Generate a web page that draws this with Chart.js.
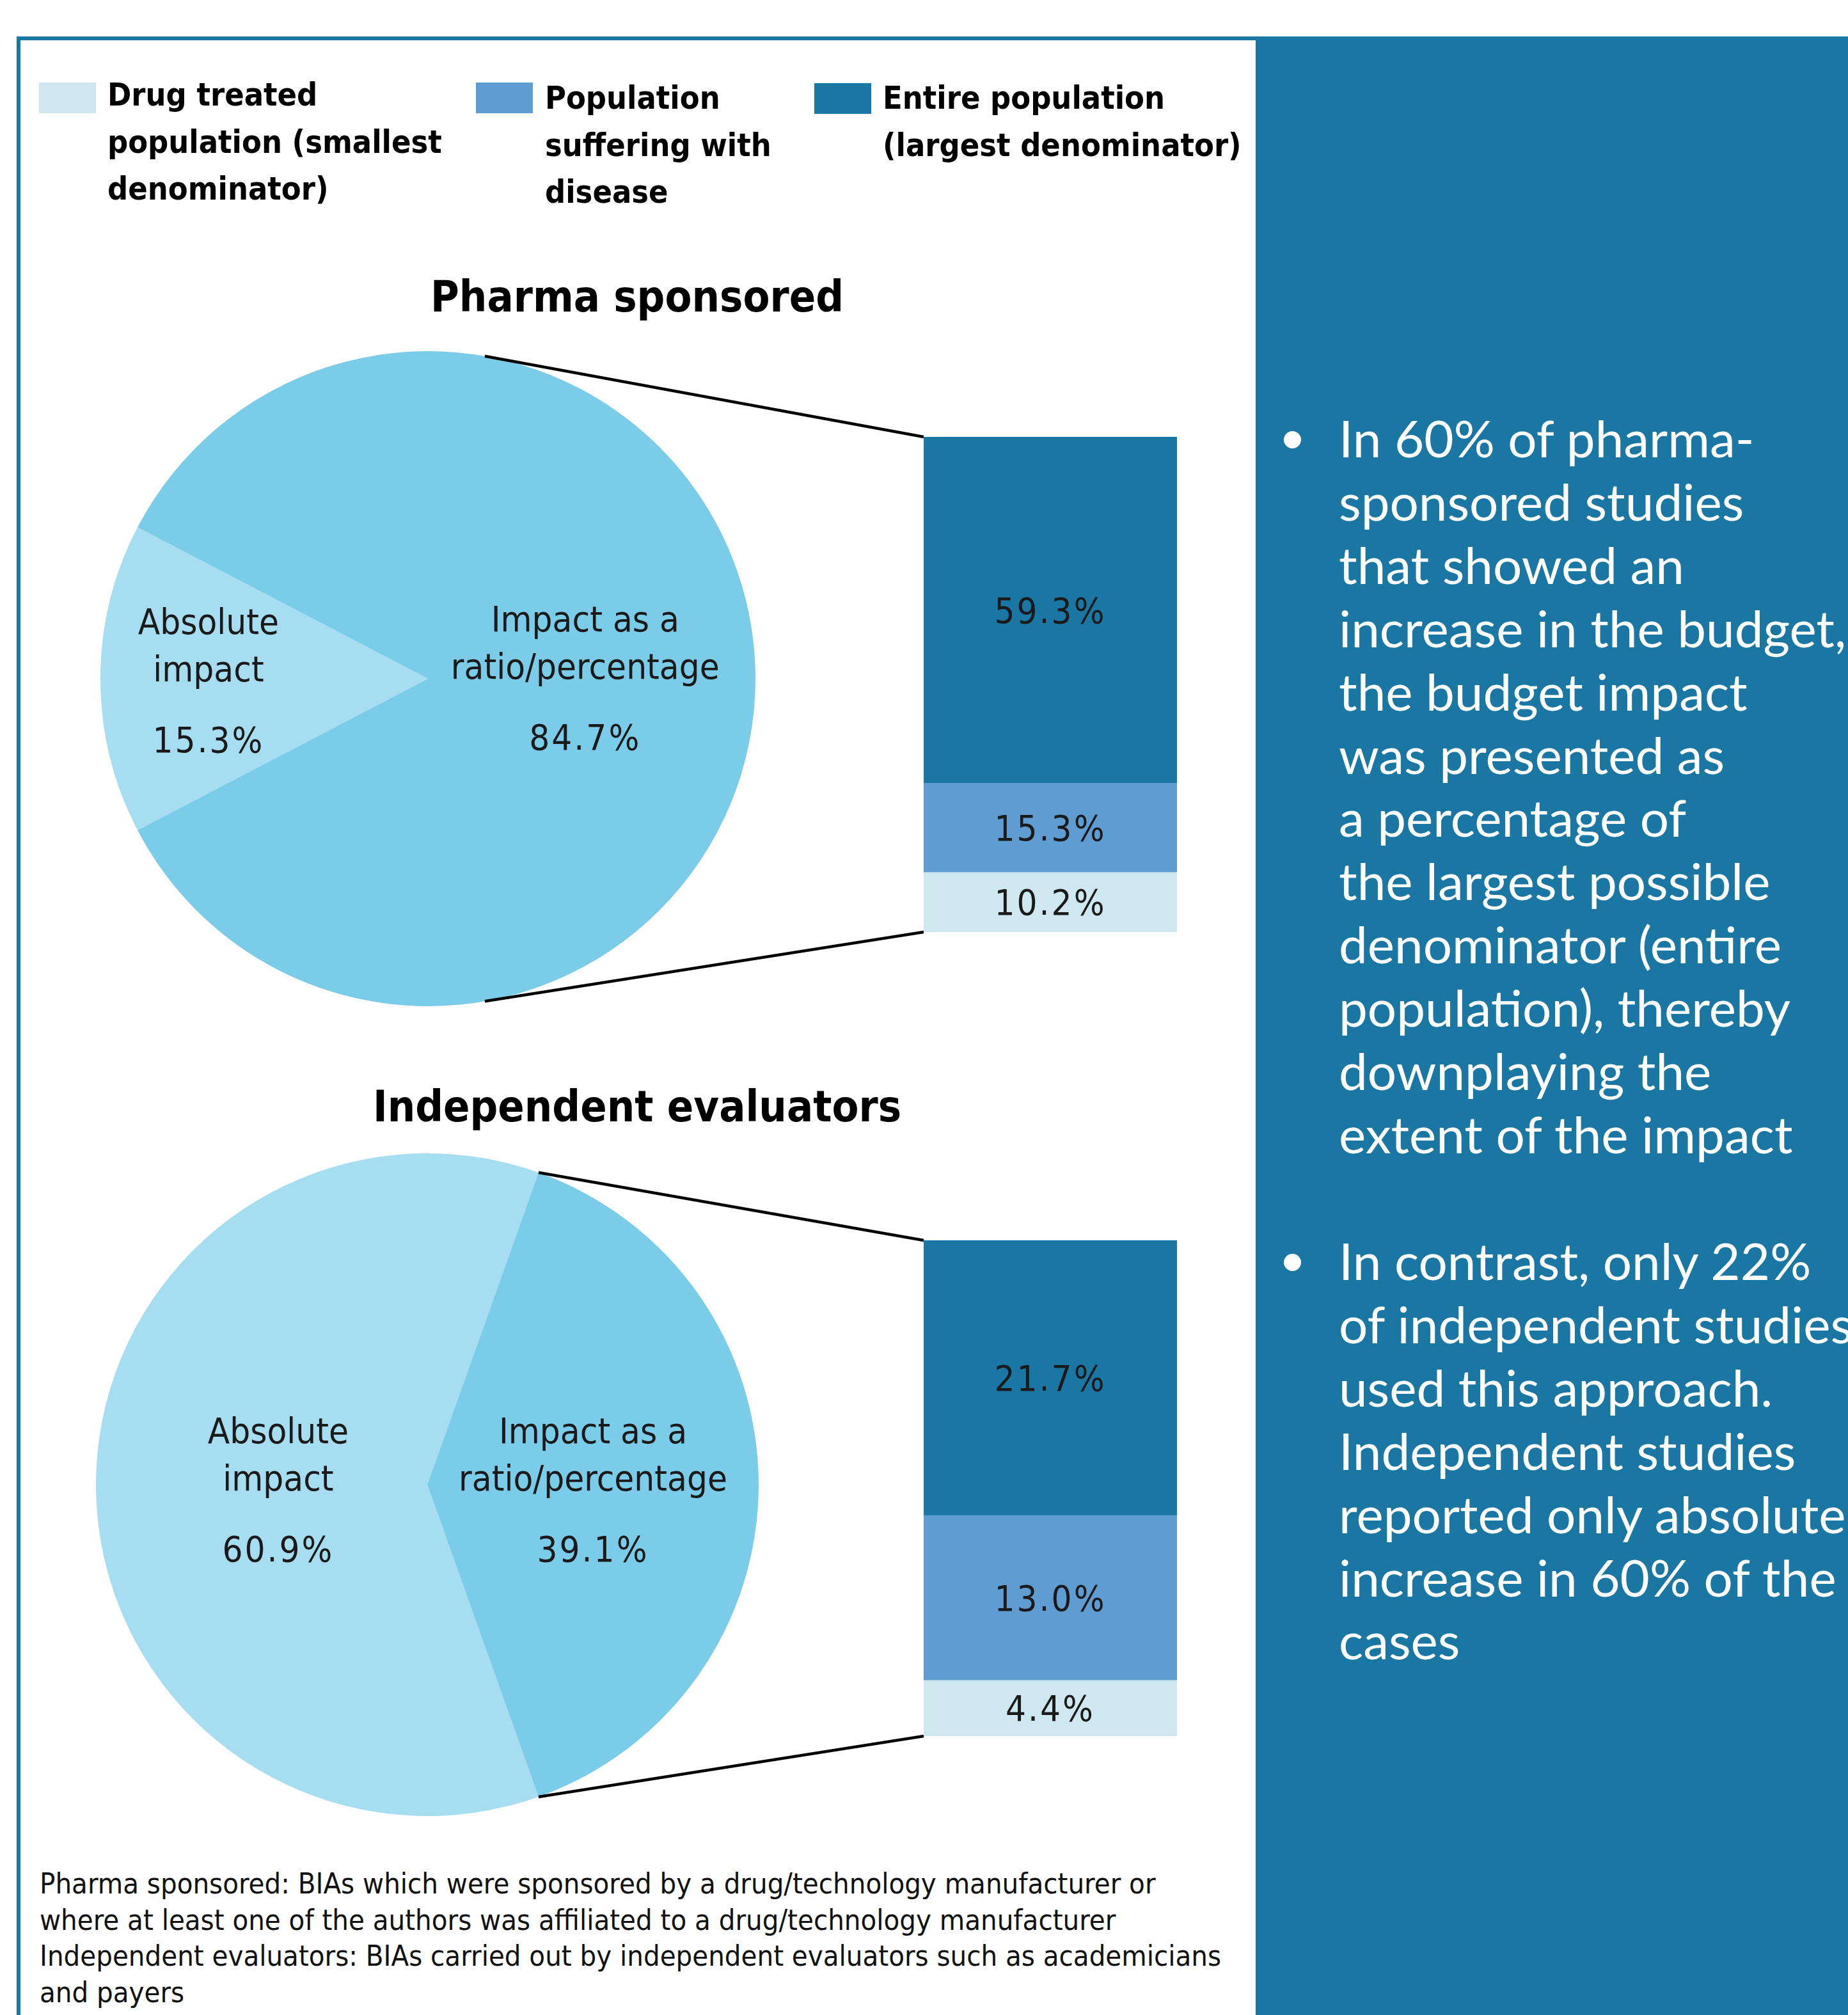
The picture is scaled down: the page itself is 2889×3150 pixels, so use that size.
<!DOCTYPE html>
<html lang="en">
<head>
<meta charset="utf-8">
<title>Budget impact: choice of denominator</title>
<script src="https://cdn.jsdelivr.net/npm/chart.js@4.4.1/dist/chart.umd.min.js"></script>
<style>
  html, body { margin: 0; padding: 0; }
  body {
    width: 2889px; height: 3150px; position: relative; overflow: hidden; background: #fff;
    font-family: "DejaVu Sans Condensed", "Liberation Sans Narrow", "DejaVu Sans", sans-serif;
    color: #000;
  }
  #frame {
    position: absolute; left: 26px; top: 57px; width: 1960px; height: 3200px;
    border-top: 6px solid #1a76a3; border-left: 6px solid #1a76a3; box-sizing: border-box;
  }
  #panel {
    position: absolute; left: 1963px; top: 57px; width: 926px; height: 3093px;
    background: #1a76a3; overflow: hidden;
  }
  .key { position: absolute; }
  .key .sw { position: absolute; width: 89px; height: 48px; }
  .key .tx { position: absolute; font-weight: bold; font-size: 50px; line-height: 73.5px; white-space: nowrap; }
  .title {
    position: absolute; left: 0; width: 1992px; text-align: center;
    font-weight: bold; font-size: 68px; line-height: 80px; white-space: nowrap;
  }
  #note {
    position: absolute; left: 62px; top: 2917px; font-size: 45px; line-height: 56.7px;
    white-space: nowrap; color: #111;
  }
  .bul {
    position: absolute; left: 130px; margin: 0; color: #fff;
    font-family: Lato, "Open Sans", sans-serif; font-size: 80px; line-height: 98.9px; white-space: nowrap;
  }
  .bul::before {
    content: ""; position: absolute; left: -86px; top: 39px; width: 27px; height: 27px;
    border-radius: 50%; background: #fff;
  }
  canvas { position: absolute; }
</style>
</head>
<body>
<div id="frame"></div>
<div id="panel">
  <p class="bul" style="top:578px">In 60% of pharma-<br>sponsored studies<br>that showed an<br>increase in the budget,<br>the budget impact<br>was presented as<br>a percentage of<br>the largest possible<br>denominator (entire<br>population), thereby<br>downplaying the<br>extent of the impact</p>
  <p class="bul" style="top:1864px">In contrast, only 22%<br>of independent studies<br>used this approach.<br>Independent studies<br>reported only absolute<br>increase in 60% of the<br>cases</p>
</div>

<div id="legend"></div>

<div class="title" style="top:424px">Pharma sponsored</div>
<div class="title" style="top:1690px">Independent evaluators</div>

<canvas id="pie1"></canvas>
<canvas id="bar1"></canvas>
<canvas id="pie2"></canvas>
<canvas id="bar2"></canvas>

<div id="note">Pharma sponsored: BIAs which were sponsored by a drug/technology manufacturer or<br>where at least one of the authors was affiliated to a drug/technology manufacturer<br>Independent evaluators: BIAs carried out by independent evaluators such as academicians<br>and payers</div>

<script>
  // data
  var pieLabels = [['Absolute', 'impact'], ['Impact as a', 'ratio/percentage']];
  var pharmaPie = [15.3, 84.7];
  var independentPie = [60.9, 39.1];

  var barLabels = [
    ['Drug treated', 'population (smallest', 'denominator)'],
    ['Population', 'suffering with', 'disease'],
    ['Entire population', '(largest denominator)']
  ];
  var pharmaBar = [10.2, 15.3, 59.3];
  var independentBar = [4.4, 13.0, 21.7];

  var pieColors = ['#a6ddf0', '#7accE8'];
  var barColors = ['#cfe8ef', '#5f9cd1', '#1a76a3'];
  var labelFont = '"DejaVu Sans Condensed", "Liberation Sans Narrow", "DejaVu Sans", sans-serif';

  // legend (html, wraps like the original)
  var keyPos = [[61, 129, 168, 112], [744, 129, 852, 117], [1273, 130, 1380, 117]];
  var legend = document.getElementById('legend');
  barLabels.forEach(function (lines, i) {
    var p = keyPos[i];
    var k = document.createElement('div');
    k.className = 'key';
    k.innerHTML = '<div class="sw" style="left:' + p[0] + 'px;top:' + p[1] + 'px;background:' + barColors[i] + '"></div>' +
      '<div class="tx" style="left:' + p[2] + 'px;top:' + p[3] + 'px">' + lines.join('<br>') + '</div>';
    legend.appendChild(k);
  });

  var groups = [
    { pie: 'pie1', bar: 'bar1', pieData: pharmaPie, barData: pharmaBar,
      pieBox: { left: 0, top: 540, width: 1460, height: 1060, cx: 669, cy: 1061, r: 512 },
      barBox: { left: 1444, top: 683, width: 396, height: 774 },
      labelRadius: [0.67, 0.48], labelShift: [0, -4], lineAngles: [10, 170] },
    { pie: 'pie2', bar: 'bar2', pieData: independentPie, barData: independentBar,
      pieBox: { left: 0, top: 1790, width: 1460, height: 1060, cx: 668, cy: 2321, r: 518 },
      barBox: { left: 1444, top: 1939, width: 396, height: 775 },
      labelRadius: [0.45, 0.5], labelShift: [5, 5], lineAngles: null }
  ];

  function place(canvas, box) {
    canvas.width = box.width;
    canvas.height = box.height;
    canvas.style.left = box.left + 'px';
    canvas.style.top = box.top + 'px';
    canvas.style.width = box.width + 'px';
    canvas.style.height = box.height + 'px';
  }

  var barText = {
    id: 'barText',
    afterDatasetsDraw: function (chart) {
      var ctx = chart.ctx;
      ctx.save();
      ctx.fillStyle = '#1a1a1a';
      ctx.textAlign = 'center';
      ctx.textBaseline = 'alphabetic';
      ctx.font = '56px ' + labelFont;
      ctx.letterSpacing = '3px';
      chart.data.datasets.forEach(function (ds, i) {
        var el = chart.getDatasetMeta(i).data[0];
        var y = (el.y + el.base) / 2 + 20;
        ctx.fillText(ds.data[0].toFixed(1) + '%', el.x, y);
      });
      ctx.restore();
    }
  };

  function pieExtras(g, barChart) {
    return {
      id: 'pieExtras',
      afterDatasetsDraw: function (chart) {
        var ctx = chart.ctx;
        var arcs = chart.getDatasetMeta(0).data;
        ctx.save();
        // slice labels
        ctx.fillStyle = '#1a1a1a';
        ctx.textAlign = 'center';
        ctx.textBaseline = 'alphabetic';
        ctx.font = '56px ' + labelFont;
        arcs.forEach(function (arc, i) {
          var mid = (arc.startAngle + arc.endAngle) / 2;
          var x = arc.x + Math.cos(mid) * arc.outerRadius * g.labelRadius[i];
          var y = arc.y + Math.sin(mid) * arc.outerRadius * g.labelRadius[i] + g.labelShift[i];
          ctx.letterSpacing = '0px';
          ctx.fillText(pieLabels[i][0], x, y - 70);
          ctx.fillText(pieLabels[i][1], x, y + 4);
          ctx.letterSpacing = '3px';
          ctx.fillText(g.pieData[i].toFixed(1) + '%', x, y + 115);
        });
        // connector lines to the stacked bar
        var big = arcs[1];
        var a0, a1;
        if (g.lineAngles) {
          a0 = (g.lineAngles[0] - 90) * Math.PI / 180;
          a1 = (g.lineAngles[1] - 90) * Math.PI / 180;
        } else {
          a0 = big.startAngle;
          a1 = big.endAngle;
        }
        var n = barChart.data.datasets.length;
        var topEl = barChart.getDatasetMeta(n - 1).data[0];
        var botEl = barChart.getDatasetMeta(0).data[0];
        var dx = g.barBox.left - g.pieBox.left;
        var dy = g.barBox.top - g.pieBox.top;
        var bx = dx + topEl.x - topEl.width / 2;
        ctx.strokeStyle = '#000';
        ctx.lineWidth = 4.5;
        ctx.beginPath();
        ctx.moveTo(big.x + Math.cos(a0) * big.outerRadius, big.y + Math.sin(a0) * big.outerRadius);
        ctx.lineTo(bx, dy + topEl.y);
        ctx.moveTo(big.x + Math.cos(a1) * big.outerRadius, big.y + Math.sin(a1) * big.outerRadius);
        ctx.lineTo(bx, dy + botEl.base);
        ctx.stroke();
        ctx.restore();
      }
    };
  }

  groups.forEach(function (g) {
    var barCanvas = document.getElementById(g.bar);
    place(barCanvas, g.barBox);
    var total = g.barData.reduce(function (s, v) { return s + v; }, 0);
    var barChart = new Chart(barCanvas, {
      type: 'bar',
      data: {
        labels: [''],
        datasets: g.barData.map(function (v, i) {
          return { label: barLabels[i].join(' '), data: [v], backgroundColor: barColors[i],
            borderWidth: 0, barPercentage: 1, categoryPercentage: 1 };
        })
      },
      options: {
        responsive: false, animation: false, devicePixelRatio: 1,
        layout: { padding: 0 },
        scales: {
          x: { display: false, stacked: true },
          y: { display: false, stacked: true, min: 0, max: total }
        },
        plugins: { legend: { display: false }, tooltip: { enabled: false } }
      },
      plugins: [barText]
    });

    var pieCanvas = document.getElementById(g.pie);
    var b = g.pieBox;
    place(pieCanvas, b);
    new Chart(pieCanvas, {
      type: 'pie',
      data: {
        labels: pieLabels.map(function (l) { return l.join(' '); }),
        datasets: [{ data: g.pieData, backgroundColor: pieColors, borderWidth: 0 }]
      },
      options: {
        responsive: false, animation: false, devicePixelRatio: 1,
        rotation: 90 + g.pieData[1] * 1.8,
        layout: { padding: {
          left: b.cx - b.r - b.left,
          top: b.cy - b.r - b.top,
          right: b.left + b.width - (b.cx + b.r),
          bottom: b.top + b.height - (b.cy + b.r)
        } },
        plugins: { legend: { display: false }, tooltip: { enabled: false } }
      },
      plugins: [pieExtras(g, barChart)]
    });
  });
</script>
</body>
</html>
